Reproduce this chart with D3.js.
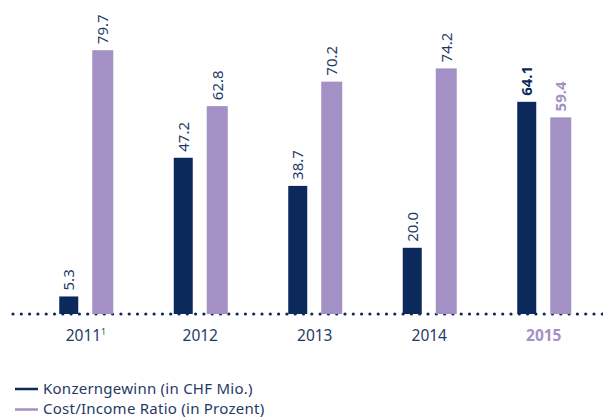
<!DOCTYPE html>
<html><head><meta charset="utf-8">
<script src="https://cdn.jsdelivr.net/npm/d3@7"></script>
<style>body{margin:0;background:#fff}svg{display:block}</style>
</head><body>
<svg id="c" width="603" height="417"></svg>
<script>
const years = ["2011", "2012", "2013", "2014", "2015"];
const konzerngewinn = [5.3, 47.2, 38.7, 20.0, 64.1];
const costIncome = [79.7, 62.8, 70.2, 74.2, 59.4];
const legendLabels = ["Konzerngewinn (in CHF Mio.)", "Cost/Income Ratio (in Prozent)"];

const dark = "#0b2a5b", purple = "#a391c5", textCol = "#1f3a66";
const font = "'Noto Sans', 'Open Sans', sans-serif";
const svg = d3.select("#c");

const x = d3.scaleBand().domain(years).range([28.5, 601]).paddingInner(0).paddingOuter(0);
const y = d3.scaleLinear().domain([0, 80]).range([314, 49.2]);
const bw = 20, gap = 13;

// dotted baseline
const dots = d3.range(13, 603, 8.3);
svg.append("g").selectAll("circle").data(dots).join("circle")
  .attr("cx", d => d).attr("cy", y(0)).attr("r", 1.6).attr("fill", dark);

const g = svg.append("g");
years.forEach((yr, i) => {
  const c = x(yr) + x.bandwidth() / 2;
  const xd = c - gap / 2 - bw, xp = c + gap / 2;
  const bold = i === years.length - 1;
  g.append("rect").attr("x", xd).attr("y", y(konzerngewinn[i])).attr("width", bw - 1)
    .attr("height", y(0) - y(konzerngewinn[i])).attr("fill", dark);
  g.append("rect").attr("x", xp).attr("y", y(costIncome[i])).attr("width", bw + 1)
    .attr("height", y(0) - y(costIncome[i])).attr("fill", purple);
  [[xd + (bw - 1) / 2, konzerngewinn[i], bold ? dark : textCol],
   [xp + (bw + 1) / 2, costIncome[i], bold ? purple : textCol]].forEach(([cx, v, col]) => {
    g.append("text").attr("transform", `translate(${cx + 5.5},${y(v) - 6}) rotate(-90)`)
      .attr("text-anchor", "start").attr("font-family", font).attr("font-size", 15)
      .attr("font-weight", bold ? 700 : 400).attr("fill", col).text(v.toFixed(1));
  });
  const t = g.append("text").attr("x", c).attr("y", 341).attr("text-anchor", "middle")
    .attr("font-family", font).attr("font-size", 15.5)
    .attr("font-weight", bold ? 700 : 400).attr("fill", bold ? purple : textCol).text(yr);
  if (i === 0) t.append("tspan").attr("font-size", 8).attr("dy", -6).text("1");
});

// legend
const lg = svg.append("g");
[[dark, legendLabels[0], 389, 393.5], [purple, legendLabels[1], 409.5, 414]].forEach(([col, lab, ly, ty]) => {
  lg.append("line").attr("x1", 15).attr("x2", 38).attr("y1", ly).attr("y2", ly)
    .attr("stroke", col).attr("stroke-width", 2.5);
  lg.append("text").attr("x", 43).attr("y", ty).attr("font-family", font)
    .attr("font-size", 15).attr("letter-spacing", 0.25).attr("fill", textCol).text(lab);
});
</script>
</body></html>
